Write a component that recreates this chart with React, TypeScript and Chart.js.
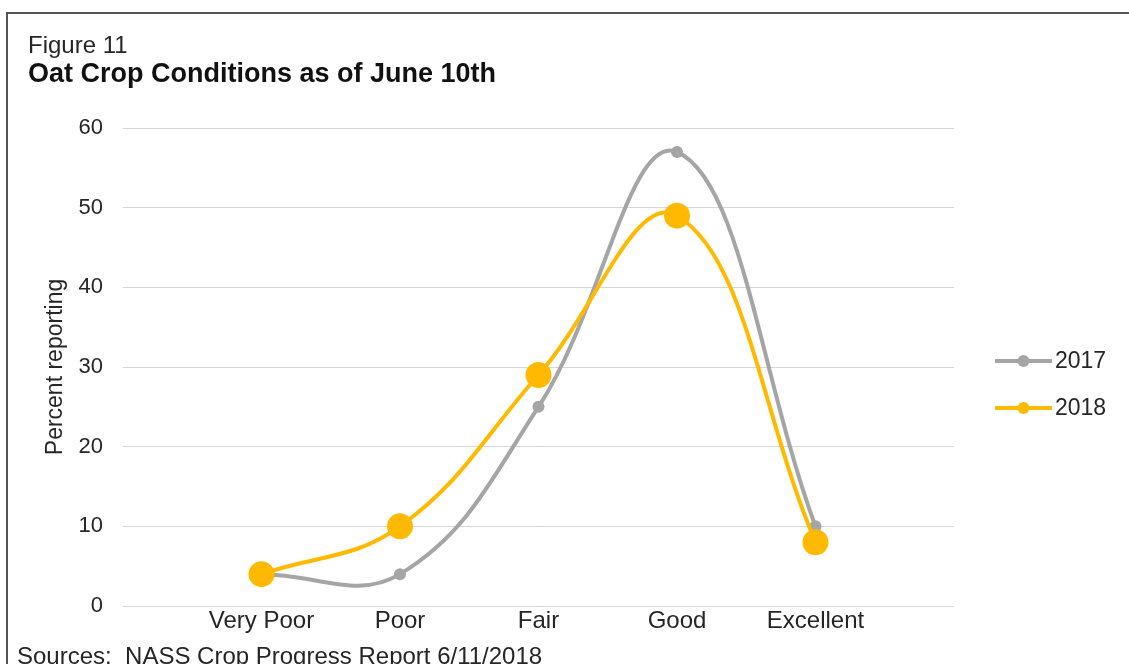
import React, { useEffect, useRef } from "react";
import { Chart, registerables } from "chart.js";

Chart.register(...registerables);

const categories = ["Very Poor", "Poor", "Fair", "Good", "Excellent"];
const values2017 = [4, 4, 25, 57, 10];
const values2018 = [4, 10, 29, 49, 8];
const seriesNames = ["2017", "2018"];
const seriesColors = ["#A5A5A5", "#FFBA00"];
const yMin = 0;
const yMax = 60;
const yStep = 10;

const FONT = '"Liberation Sans", Arial, Helvetica, sans-serif';
const TEXT = "#262626";

const legendPlugin = {
  id: "lineLegend",
  afterDraw(chart: any) {
    const ctx = chart.ctx;
    const area = chart.chartArea;
    const mid = (area.top + area.bottom) / 2;
    const gap = 47;
    ctx.save();
    chart.data.datasets.forEach((ds: any, i: number) => {
      const y = mid - 6 + i * gap;
      const x0 = area.right + 41;
      const x1 = x0 + 57;
      ctx.strokeStyle = ds.borderColor;
      ctx.lineWidth = 4;
      ctx.lineCap = "butt";
      ctx.beginPath();
      ctx.moveTo(x0, y);
      ctx.lineTo(x1, y);
      ctx.stroke();
      ctx.fillStyle = ds.borderColor;
      ctx.beginPath();
      ctx.arc((x0 + x1) / 2, y, 6, 0, Math.PI * 2);
      ctx.fill();
      ctx.fillStyle = TEXT;
      ctx.font = `23px ${FONT}`;
      ctx.textBaseline = "middle";
      ctx.textAlign = "left";
      ctx.fillText(ds.label, x1 + 3, y + 1);
    });
    ctx.restore();
  },
};

export default function App() {
  const canvasRef = useRef<HTMLCanvasElement | null>(null);

  useEffect(() => {
    if (!canvasRef.current) return;
    const chart = new Chart(canvasRef.current, {
      type: "line",
      data: {
        datasets: [
          {
            label: seriesNames[0],
            data: values2017.map((v, i) => ({ x: i, y: v })),
            borderColor: seriesColors[0],
            backgroundColor: seriesColors[0],
            pointBackgroundColor: seriesColors[0],
            pointBorderWidth: 0,
            pointRadius: 6,
            borderWidth: 4,
            tension: 0.4,
            order: 2,
          },
          {
            label: seriesNames[1],
            data: values2018.map((v, i) => ({ x: i, y: v })),
            borderColor: seriesColors[1],
            backgroundColor: seriesColors[1],
            pointBackgroundColor: seriesColors[1],
            pointBorderWidth: 0,
            pointRadius: 13,
            borderWidth: 4,
            tension: 0.4,
            order: 1,
          },
        ],
      },
      options: {
        responsive: false,
        animation: false,
        layout: { padding: { left: 40, top: 128, right: 175, bottom: 0 } },
        plugins: {
          legend: { display: false },
          tooltip: { enabled: false },
          title: { display: false },
        },
        scales: {
          x: {
            type: "linear",
            min: -1,
            max: categories.length,
            grid: { display: false },
            border: { display: false },
            afterFit: (scale: any) => {
              scale.height = 58;
            },
            afterBuildTicks: (scale: any) => {
              scale.ticks = categories.map((_, i) => ({ value: i }));
            },
            ticks: {
              autoSkip: false,
              maxRotation: 0,
              padding: -7,
              color: TEXT,
              font: { family: FONT, size: 24 },
              callback: (v: any) => categories[v] ?? "",
            },
          },
          y: {
            min: yMin,
            max: yMax,
            afterFit: (scale: any) => {
              scale.width = 83;
            },
            grid: { color: "#D6D6D6", lineWidth: 1, drawTicks: false },
            border: { display: false },
            ticks: {
              stepSize: yStep,
              padding: 20,
              color: TEXT,
              font: { family: FONT, size: 22 },
            },
            title: {
              display: true,
              text: "Percent reporting",
              color: TEXT,
              font: { family: FONT, size: 23 },
              padding: { top: 2, bottom: 0 },
            },
          },
        },
      },
      plugins: [legendPlugin],
    } as any);
    return () => chart.destroy();
  }, []);

  return (
    <div
      style={{
        position: "absolute",
        left: 0,
        top: 0,
        width: 1129,
        height: 664,
        overflow: "hidden",
        background: "#fff",
        fontFamily: FONT,
        color: TEXT,
      }}
    >
      <div
        style={{
          position: "absolute",
          left: 6,
          top: 12,
          right: 0,
          bottom: 0,
          borderTop: "2px solid #555",
          borderLeft: "2px solid #555",
        }}
      />
      <canvas
        ref={canvasRef}
        width={1129}
        height={664}
        style={{ position: "absolute", left: 0, top: 0, width: 1129, height: 664 }}
      />
      <div style={{ position: "absolute", left: 28, top: 33, fontSize: 24, lineHeight: "24px", whiteSpace: "nowrap" }}>
        Figure 11
      </div>
      <div
        style={{
          position: "absolute",
          left: 28,
          top: 60,
          fontSize: 27,
          lineHeight: "27px",
          fontWeight: "bold",
          whiteSpace: "nowrap",
          color: "#111",
        }}
      >
        Oat Crop Conditions as of June 10th
      </div>
      <div style={{ position: "absolute", left: 17, top: 644, fontSize: 24, lineHeight: "24px", whiteSpace: "pre" }}>
        {"Sources:  NASS Crop Progress Report 6/11/2018"}
      </div>
    </div>
  );
}
